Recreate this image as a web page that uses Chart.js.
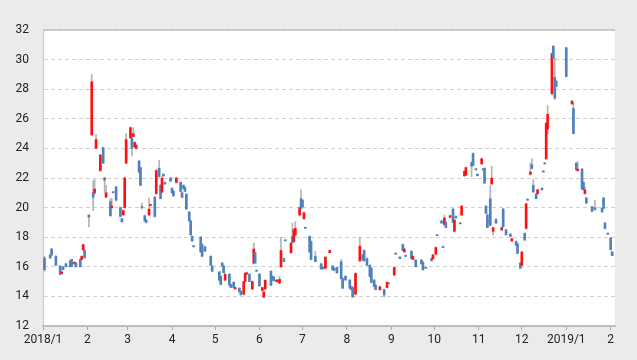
<!DOCTYPE html>
<html><head><meta charset="utf-8">
<script src="https://cdn.jsdelivr.net/npm/chart.js@4/dist/chart.umd.min.js"></script>
<style>html,body{margin:0;padding:0;background:#ebebeb;overflow:hidden}</style>
</head><body>
<canvas id="c" width="637" height="360"></canvas>
<script>
// Day offsets from 2018-01-01
const days = [
 1,5,6,9,12,13,14,16,19,20,22,23,26,27,28,29,
 32,34,35,36,37,40,42,43,44,47,48,49,51,54,55,56,57,
 58,61,62,63,64,65,67,68,69,71,72,74,75,78,79,81,82,83,84,85,
 89,90,91,93,96,97,98,99,100,102,103,104,105,110,111,113,
 117,118,123,124,125,126,127,130,131,133,134,137,138,140,141,142,
 144,146,147,148,149,151,153,154,155,159,160,161,163,165,166,168,
 169,173,174,175,176,179,180,181,182,183,186,187,190,194,195,197,200,202,203,205,
 208,209,211,214,215,216,218,221,223,224,226,228,229,231,232,235,238,240,241,
 245,246,249,251,252,253,257,258,260,264,265,267,271,272,
 274,275,278,279,280,281,284,286,287,288,291,292,294,295,299,300,302,303,
 306,307,308,309,310,312,313,314,316,320,321,323,326,327,330,331,
 333,334,336,337,338,340,341,342,344,345,348,349,350,351,352,355,356,357,358,
 365,369,370,372,373,376,377,378,379,383,385,390,391,392,394,396,397
];
const openV = [
 16.6,16.8,17.2,16.7,16.05,15.55,16.0,16.2,16.4,16.5,16.2,16.25,16.5,16.5,17.15,17.1,
 19.5,24.9,21.0,21.0,24.0,22.5,24.05,22.0,20.7,20.4,20.0,21.05,21.4,20.0,19.25,19.5,20.0,
 23.0,24.7,24.7,24.8,24.1,24.0,23.15,22.7,20.05,19.45,19.15,19.5,20.15,20.7,20.95,22.65,21.5,21.05,22.25,21.7,
 22.0,21.3,21.1,21.7,21.7,21.0,21.5,21.35,20.9,19.7,19.1,18.05,17.4,18.0,17.5,17.35,
 16.7,16.05,15.65,15.35,16.25,16.05,15.1,15.5,14.8,14.95,14.5,14.55,14.35,14.15,15.0,15.5,
 15.5,14.5,16.25,16.95,15.75,15.5,14.4,13.95,14.5,15.7,15.35,15.3,15.0,14.9,16.0,16.55,
 17.8,16.95,18.05,17.7,18.15,19.5,20.6,20.5,19.25,18.65,18.05,17.7,16.7,16.2,16.0,15.9,16.95,16.05,15.9,15.95,
 16.35,15.2,15.35,15.1,14.65,14.6,14.15,16.4,16.8,17.1,16.55,16.1,15.9,15.1,14.75,14.45,14.45,14.6,14.9,
 15.45,16.9,16.65,17.5,17.0,16.75,17.05,16.5,16.45,16.45,16.3,15.95,16.55,16.55,
 16.85,18.15,19.1,17.35,18.85,19.0,19.35,19.9,18.4,19.4,18.95,19.5,22.15,22.2,23.05,23.65,22.6,22.25,
 22.95,22.6,22.65,20.1,19.5,20.6,21.6,18.4,19.2,18.5,19.9,18.5,18.2,17.75,17.7,17.55,
 16.25,16.1,18.25,18.6,20.55,22.25,22.9,21.5,20.9,20.95,21.3,22.45,23.0,23.3,25.3,27.7,30.9,28.8,28.55,
 30.8,27.0,26.7,23.0,22.5,22.6,21.7,20.95,20.65,20.05,20.0,19.95,20.65,18.95,18.25,17.95,17.0
];
const highV = [
 16.7,16.85,17.25,16.75,16.1,15.7,16.05,16.25,16.45,16.5,16.35,16.3,16.55,16.75,17.5,17.2,
 19.5,29.0,21.8,21.9,24.95,23.6,24.1,22.05,21.5,20.6,20.6,21.1,21.45,20.05,19.3,19.85,22.05,
 25.0,25.45,24.75,25.4,24.45,24.25,23.2,22.75,20.3,19.5,19.2,20.65,20.2,20.75,22.55,23.2,21.55,22.1,22.3,21.75,
 22.05,21.35,21.15,22.05,21.75,21.05,21.55,21.4,20.95,19.75,19.15,18.1,17.45,18.05,17.55,17.4,
 16.75,16.1,15.7,15.4,16.3,16.1,15.55,15.55,14.85,15.0,14.65,14.6,14.4,15.0,15.6,15.65,
 15.55,15.05,17.6,17.0,15.8,15.55,14.6,14.3,15.1,15.75,15.4,15.35,15.15,15.35,18.0,16.6,
 17.85,17.65,18.95,18.55,19.05,20.05,21.2,20.55,19.7,18.7,18.1,17.75,17.05,16.25,16.05,16.7,17.15,16.1,15.95,16.0,
 16.5,15.25,15.4,15.15,14.7,14.65,15.6,18.0,16.85,17.15,16.6,16.15,15.95,15.15,14.8,14.7,14.5,15.0,14.95,
 16.0,16.95,16.7,17.55,17.25,16.8,17.1,16.75,16.5,16.5,16.35,16.0,16.6,16.85,
 17.35,18.2,19.15,17.4,19.5,19.05,19.5,19.95,19.2,19.45,19.0,20.15,22.5,22.75,23.1,23.7,22.65,22.3,
 23.35,22.65,22.7,20.15,19.55,21.5,22.8,18.65,19.25,18.7,19.95,18.55,18.25,17.95,17.75,17.6,
 16.3,17.05,18.3,20.3,20.6,23.0,23.3,21.9,20.95,21.25,21.35,22.5,23.05,25.75,26.9,30.45,30.95,30.1,28.6,
 30.85,27.25,27.05,23.05,23.1,22.65,21.75,21.4,20.7,20.1,20.5,20.0,20.7,19.0,18.3,18.0,17.05
];
const lowV = [
 15.7,16.55,16.75,16.1,15.45,15.5,15.8,16.0,16.0,16.0,16.15,16.0,16.0,16.5,17.1,16.6,
 18.7,24.9,19.8,20.9,24.0,22.45,23.0,21.0,20.7,19.4,19.9,21.0,20.45,19.4,19.0,19.5,19.95,
 23.0,24.7,23.5,24.8,24.05,23.95,22.35,21.5,19.9,19.05,18.95,19.45,20.1,19.35,20.9,22.05,20.6,21.0,22.1,21.55,
 21.75,21.0,20.75,21.65,21.05,20.65,21.25,21.1,19.9,19.1,18.15,17.7,17.35,17.0,16.7,17.05,
 16.1,15.65,15.05,14.8,16.05,15.6,15.05,14.75,14.6,14.6,14.5,14.3,14.1,14.1,15.0,15.5,
 15.0,14.45,16.2,16.25,15.7,14.7,14.35,13.9,14.45,14.75,15.1,15.05,14.95,14.85,15.95,16.35,
 17.75,16.9,17.6,17.65,18.1,19.45,19.9,20.0,19.2,18.6,17.0,16.45,16.35,15.85,15.85,15.85,16.95,15.8,15.75,15.55,
 15.2,14.55,15.1,14.55,14.45,13.95,14.1,16.35,16.45,16.4,16.1,15.35,14.9,14.65,14.45,14.4,13.95,14.55,14.85,
 15.4,16.85,16.55,17.1,17.0,16.7,16.55,16.5,16.0,16.2,15.75,15.9,16.4,16.5,
 16.8,18.1,18.95,17.3,18.8,18.65,19.3,19.0,18.35,19.3,18.9,19.45,22.1,22.15,22.1,22.85,22.55,22.15,
 22.95,22.55,21.65,19.6,18.65,18.75,21.55,18.15,18.95,18.45,18.7,18.15,18.05,17.7,17.45,16.9,
 15.9,16.05,17.8,18.55,20.5,22.2,22.65,21.05,20.6,20.9,21.2,22.4,22.95,23.25,25.0,27.6,30.1,27.3,28.2,
 28.85,27.0,25.0,22.55,22.45,21.25,21.2,20.9,20.3,19.7,19.85,19.7,19.95,18.55,18.2,17.15,16.75
];
const closeV = [
 15.8,16.6,16.8,16.1,15.5,15.65,15.8,16.0,16.0,16.05,16.3,16.0,16.0,16.7,17.5,16.6,
 19.35,28.5,20.7,21.25,24.6,23.55,23.0,21.85,21.0,19.45,20.1,21.0,20.5,19.4,19.05,19.8,22.0,
 24.6,25.4,24.0,25.0,24.4,24.2,22.4,21.5,20.0,19.1,19.0,19.9,20.2,19.4,22.5,22.1,20.6,22.0,22.15,21.6,
 21.8,21.0,20.8,22.0,21.1,20.7,21.3,21.1,19.9,19.1,18.15,17.75,17.35,17.0,16.7,17.05,
 16.1,15.7,15.1,14.8,16.05,15.6,15.5,14.75,14.6,14.6,14.6,14.3,14.1,15.0,15.55,15.6,
 15.0,15.0,17.2,16.25,15.7,14.7,14.6,14.3,15.1,14.75,15.1,15.05,15.1,15.15,17.1,16.35,
 17.75,17.6,17.65,18.5,18.6,20.0,19.95,20.05,19.65,18.6,17.0,16.5,16.35,15.85,15.85,16.65,17.1,15.8,15.75,15.6,
 15.2,14.55,15.1,14.55,14.45,13.95,15.55,17.4,16.45,16.4,16.1,15.35,14.95,14.65,14.45,14.65,14.1,14.95,14.85,
 15.95,16.85,16.55,17.1,17.2,16.7,16.55,16.7,16.0,16.2,15.8,15.9,16.4,16.8,
 17.3,18.1,18.95,17.3,19.3,18.65,19.45,19.0,19.15,19.3,18.9,20.1,22.45,22.7,22.8,22.85,22.55,22.15,
 23.3,22.55,21.65,19.6,18.65,18.8,22.0,18.65,18.95,18.65,18.7,18.15,18.05,17.9,17.45,16.9,
 15.9,17.0,17.8,20.25,20.5,22.4,22.65,21.05,20.6,21.2,21.2,22.4,22.95,25.7,26.3,30.4,30.1,27.4,28.2,
 28.85,27.2,25.0,22.55,22.6,21.25,21.2,21.2,20.3,19.75,19.85,19.7,19.95,18.6,18.2,17.15,16.75
];
const monthStarts = [0,31,59,90,120,151,181,212,243,273,304,334,365,396];
const monthLabels = ['2018/1','2','3','4','5','6','7','8','9','10','11','12','2019/1','2'];
const yTicks = {min:12, max:32, step:2};

const UP = '#ff1010', DOWN = '#4f81bd', WICK = '#b4b4b4';
const isUp = i => closeV[i] >= openV[i];

const bodyData = days.map((d,i)=>({x:d, y:[openV[i], closeV[i]]}));
const wickData = days.map((d,i)=>({x:d, y:[lowV[i], highV[i]]}));

const bgPlugin = {
  id:'bg',
  beforeDraw(chart){
    const {ctx, chartArea:a} = chart;
    ctx.save();
    ctx.fillStyle='#ebebeb'; ctx.fillRect(0,0,chart.width,chart.height);
    ctx.fillStyle='#ffffff'; ctx.fillRect(a.left,a.top,a.right-a.left,a.bottom-a.top);
    ctx.restore();
  },
  afterDraw(chart){
    const {ctx, chartArea:a} = chart;
    ctx.save();
    ctx.strokeStyle='#c0c0c0'; ctx.lineWidth=1.5;
    ctx.beginPath(); ctx.moveTo(a.left, a.top); ctx.lineTo(a.right, a.top); ctx.stroke();
    ctx.restore();
  }
};

const font = {family:'Roboto', size:12};
new Chart(document.getElementById('c'), {
  type:'bar',
  data:{ datasets:[
    {label:'wick', data:wickData, backgroundColor:WICK, barThickness:1, grouped:false, order:2},
    {label:'body', data:bodyData, grouped:false, order:1, barThickness:2, minBarLength:1,
     backgroundColor: c => isUp(c.dataIndex) ? UP : DOWN}
  ]},
  options:{
    responsive:false, animation:false, devicePixelRatio:1,
    layout:{padding:{top:30, right:22, left:0, bottom:0}},
    plugins:{legend:{display:false}, tooltip:{enabled:false}},
    scales:{
      x:{type:'linear', min:0, max:399, offset:false,
        grid:{offset:false, drawOnChartArea:false, drawTicks:true, tickLength:4, color:'#a8a8a8'},
        border:{display:true, color:'#bdbdbd', width:2},
        ticks:{autoSkip:false, maxRotation:0, padding:3, color:'#222', font,
          callback:(v,i)=>monthLabels[i]},
        afterBuildTicks: s => { s.ticks = monthStarts.map(v=>({value:v})); },
        afterFit: s => { s.height = 34; }
      },
      y:{type:'linear', min:yTicks.min, max:yTicks.max, beginAtZero:false,
        ticks:{stepSize:yTicks.step, padding:14, color:'#222', font},
        grid:{color:'#d0d0d0', drawTicks:false, lineWidth:1},
        border:{display:true, color:'#c8c8c8', width:1, dash:[4,3]},
        afterFit: s => { s.width = 43; }
      }
    }
  },
  plugins:[bgPlugin]
});
</script>
</body></html>
